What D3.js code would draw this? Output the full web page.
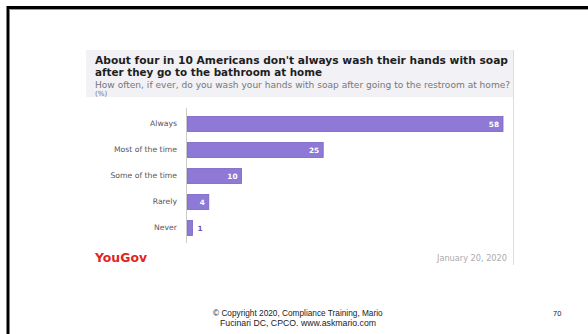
<!DOCTYPE html>
<html>
<head>
<meta charset="utf-8">
<script src="https://cdn.jsdelivr.net/npm/d3@7"></script>
<style>
  body { margin: 0; background: #fff; }
  svg { display: block; }
  .cat text { font-family: "DejaVu Sans", sans-serif; font-size: 7.7px; fill: #555; }
</style>
</head>
<body>
<div id="chart"></div>
<script>
var categories = ["Always", "Most of the time", "Some of the time", "Rarely", "Never"];
var values = [58, 25, 10, 4, 1];
var title = ["About four in 10 Americans don't always wash their hands with soap",
             "after they go to the bathroom at home"];
var subtitle = ["How often, if ever, do you wash your hands with soap after going to the restroom at home?", "(%)"];
var footer = ["\u00a9 Copyright 2020, Compliance Training,  Mario", "Fucinari DC, CPCO.  www.askmario.com"];

var svg = d3.select("#chart").append("svg")
    .attr("width", 588)
    .attr("height", 334);

// scale a text's font so it spans the given width
function fit(sel, widths) {
  sel.each(function(d, i) {
    if (!widths[i]) return;
    var t = d3.select(this);
    var fs = +t.attr("font-size");
    var w = this.getComputedTextLength();
    t.attr("font-size", (fs * widths[i] / w).toFixed(2));
  });
}

// slide frame
svg.append("path")
    .attr("d", "M8,334 V7.5 H588")
    .attr("fill", "none")
    .attr("stroke", "#000")
    .attr("stroke-width", 3);
svg.append("line")
    .attr("x1", 9).attr("x2", 588).attr("y1", 9.5).attr("y2", 9.5)
    .attr("stroke", "#999").attr("stroke-width", 1);

// header panel
svg.append("rect")
    .attr("x", 86).attr("y", 50)
    .attr("width", 428).attr("height", 47)
    .attr("fill", "#f1f1f6");
svg.append("line")
    .attr("x1", 513.5).attr("x2", 513.5).attr("y1", 50).attr("y2", 265)
    .attr("stroke", "#ddd");

var font = "'DejaVu Sans', sans-serif";
var head = svg.append("g").attr("font-family", font);
head.selectAll(".ttl").data(title).enter().append("text")
    .attr("x", 95)
    .attr("y", function(d, i) { return 64 + i * 11.5; })
    .attr("font-size", 10)
    .attr("font-weight", "bold")
    .attr("fill", "#1e1e1e")
    .text(function(d) { return d; })
    .call(fit, [413, 227]);
head.selectAll(".sub").data(subtitle).enter().append("text")
    .attr("x", 95)
    .attr("y", function(d, i) { return 88 + i * 7.5; })
    .attr("font-size", 7.1)
    .attr("fill", "#777")
    .text(function(d) { return d; })
    .call(fit, [415, 0]);

var x = d3.scaleLinear()
    .domain([0, d3.max(values)])
    .range([187, 503]);

var y = d3.scaleBand()
    .domain(categories)
    .range([111, 241])
    .paddingInner(0.42)
    .paddingOuter(0.21);

var g = svg.append("g");

g.selectAll(".bar").data(values).enter().append("rect")
    .attr("class", "bar")
    .attr("x", x(0))
    .attr("y", function(d, i) { return y(categories[i]); })
    .attr("width", function(d) { return x(d) - x(0); })
    .attr("height", y.bandwidth())
    .attr("fill", "#8e79d6")
    .attr("stroke", "#7a63c6")
    .attr("stroke-width", 0.8);

g.selectAll(".lbl").data(values).enter().append("text")
    .attr("x", function(d) { return d > 2 ? x(d) - 4 : x(d) + 5; })
    .attr("y", function(d, i) { return y(categories[i]) + y.bandwidth() / 2 + 3; })
    .attr("text-anchor", function(d) { return d > 2 ? "end" : "start"; })
    .attr("font-family", font)
    .attr("font-size", 7.3)
    .attr("font-weight", "bold")
    .attr("fill", function(d) { return d > 2 ? "#fff" : "#6a55b0"; })
    .text(function(d) { return d; });

var ax = svg.append("g")
    .attr("class", "cat")
    .attr("transform", "translate(186,0)")
    .call(d3.axisLeft(y).tickSize(0).tickPadding(9).tickSizeOuter(0));
ax.select(".domain").attr("stroke", "#ccc").attr("d", "M0.5,108V243");

// brand + date
svg.append("text")
    .attr("x", 95).attr("y", 262)
    .attr("font-family", font)
    .attr("font-size", 11)
    .attr("font-weight", "bold")
    .attr("fill", "#e0261e")
    .text("YouGov")
    .call(fit, [52]);
svg.append("text")
    .attr("x", 437).attr("y", 261)
    .attr("font-family", font)
    .attr("font-size", 7)
    .attr("fill", "#aaa")
    .text("January 20, 2020")
    .call(fit, [70]);

// slide footer
var sans = "'Liberation Sans', Arial, sans-serif";
svg.selectAll(".ft").data(footer).enter().append("text")
    .attr("x", function(d, i) { return i ? 220 : 213; })
    .attr("y", function(d, i) { return 315.5 + i * 10; })
    .attr("font-family", sans)
    .attr("font-size", 7)
    .attr("fill", "#222")
    .text(function(d) { return d; })
    .call(fit, [170, 156]);
svg.append("text")
    .attr("x", 553).attr("y", 316)
    .attr("font-family", sans)
    .attr("font-size", 7.5)
    .attr("fill", "#222")
    .text("70");
</script>
</body>
</html>
